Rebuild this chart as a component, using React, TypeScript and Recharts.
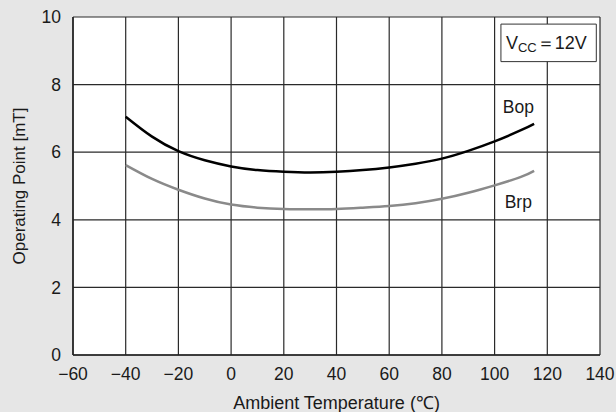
import React from 'react';
import {
  LineChart,
  Line,
  XAxis,
  YAxis,
  CartesianGrid,
  ReferenceArea,
  ReferenceDot,
} from 'recharts';

// Ambient temperature (°C) and operating points (mT)
const temperatures = [-40, -30, -20, -10, 0, 10, 20, 30, 40, 50, 60, 70, 80, 90, 100, 110, 115];
const bopValues = [7.05, 6.46, 6.03, 5.76, 5.58, 5.47, 5.42, 5.4, 5.42, 5.47, 5.55, 5.66, 5.81, 6.04, 6.32, 6.65, 6.84];
const brpValues = [5.62, 5.21, 4.89, 4.63, 4.45, 4.36, 4.32, 4.31, 4.32, 4.36, 4.41, 4.49, 4.62, 4.8, 5.02, 5.27, 5.45];

const xTicks = [-60, -40, -20, 0, 20, 40, 60, 80, 100, 120, 140];
const yTicks = [0, 2, 4, 6, 8, 10];

const FONT = '"Liberation Sans", Arial, sans-serif';
const INK = '#1a1a1a';

const chartData = temperatures.map((t, i) => ({
  temp: t,
  bop: bopValues[i],
  brp: brpValues[i],
}));

// minus sign instead of hyphen, like the original
const formatTick = (v: number) => String(v).replace('-', '\u2212');

const YAxisTitle = ({ viewBox }: any) => {
  const x = viewBox.x + 19;
  const y = viewBox.y + viewBox.height / 2;
  return (
    <text
      x={x}
      y={y}
      transform={`rotate(-90, ${x}, ${y})`}
      textAnchor="middle"
      dominantBaseline="central"
      fill={INK}
      fontSize={17}
      fontFamily={FONT}
    >
      Operating Point [mT]
    </text>
  );
};

const VccLabel = ({ viewBox }: any) => (
  <text x={viewBox.x + 5} y={viewBox.y + 25} fill={INK} fontSize={18} fontFamily={FONT}>
    V
    <tspan fontSize={13} dy={3}>CC</tspan>
    <tspan dy={-3}>{'\uFF1D'}12V</tspan>
  </text>
);

export default function App() {
  return (
    <div
      style={{
        position: 'absolute',
        left: 0,
        top: 0,
        width: 616,
        height: 412,
        background: '#e6e6e6',
      }}
    >
      <LineChart
        width={616}
        height={412}
        data={chartData}
        margin={{ top: 17, right: 16, left: 0, bottom: 0 }}
      >
        <CartesianGrid
          stroke="#2a2a2a"
          strokeWidth={1.2}
          fill="#fff"
          fillOpacity={1}
          horizontalValues={yTicks}
          verticalValues={xTicks}
        />

        <XAxis
          type="number"
          dataKey="temp"
          domain={[-60, 140]}
          ticks={xTicks}
          tickFormatter={formatTick}
          interval={0}
          tick={{ fill: INK, fontSize: 17.5, fontFamily: FONT }}
          tickLine={false}
          tickMargin={7}
          axisLine={{ stroke: '#222', strokeWidth: 1.5 }}
          height={57}
          label={{
            value: 'Ambient Temperature (\u2103)',
            position: 'insideBottom',
            offset: 3,
            fill: INK,
            fontSize: 18,
            fontFamily: FONT,
          }}
        />

        <YAxis
          type="number"
          domain={[0, 10]}
          ticks={yTicks}
          interval={0}
          tick={{ fill: INK, fontSize: 17.5, fontFamily: FONT }}
          tickLine={false}
          tickMargin={6}
          axisLine={{ stroke: '#222', strokeWidth: 1.5 }}
          width={73}
          label={<YAxisTitle />}
        />

        {/* Vcc condition box, upper right */}
        <ReferenceArea
          x1={102.4}
          x2={138.6}
          y1={8.68}
          y2={9.79}
          fill="#fff"
          fillOpacity={1}
          stroke="#333"
          strokeWidth={1}
          label={<VccLabel />}
        />

        <Line
          type="natural"
          dataKey="bop"
          stroke="#000"
          strokeWidth={2.5}
          dot={false}
          isAnimationActive={false}
        />
        <Line
          type="natural"
          dataKey="brp"
          stroke="#8a8a8a"
          strokeWidth={2.5}
          dot={false}
          isAnimationActive={false}
        />

        <ReferenceDot
          x={109}
          y={7.34}
          r={1}
          fill="none"
          stroke="none"
          label={{ value: 'Bop', position: 'center', fill: INK, fontSize: 17.5, fontFamily: FONT }}
        />
        <ReferenceDot
          x={109}
          y={4.53}
          r={1}
          fill="none"
          stroke="none"
          label={{ value: 'Brp', position: 'center', fill: INK, fontSize: 17.5, fontFamily: FONT }}
        />
      </LineChart>
    </div>
  );
}
